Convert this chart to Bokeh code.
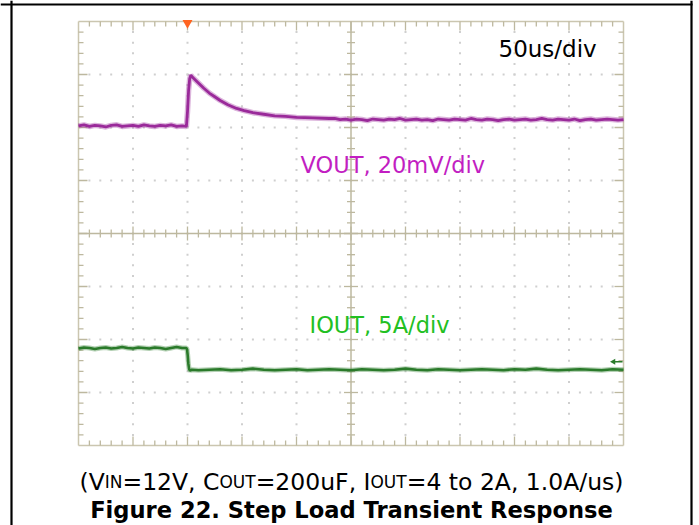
import numpy as np
from bokeh.plotting import figure
from bokeh.models import Range1d
from bokeh.core.properties import value
from bokeh.embed import file_html
from bokeh.resources import INLINE

# ---------------- data ----------------
# time in microseconds (50 us/div, 10 div), values in divisions from screen centre
vout_t = [0, 5, 10, 15, 20, 25, 30, 35, 40, 45, 50, 55, 60, 65, 70, 75, 80, 85, 90, 95,
          99, 100, 101, 102, 103, 104, 106, 110, 115, 120, 125, 130, 137, 145, 152, 160,
          170, 180, 190, 200, 215, 230,
          235, 240, 245, 250, 255, 260, 265, 270, 275, 280, 285, 290, 295, 300, 305, 310,
          315, 320, 325, 330, 335, 340, 345, 350, 355, 360, 365, 370, 375, 380, 385, 390,
          395, 400, 405, 410, 415, 420, 425, 430, 435, 440, 445, 450, 455, 460, 465, 470,
          475, 480, 485, 490, 495, 500]
vout_v = [2.03, 2.05, 2.02, 2.04, 2.03, 2.01, 2.04, 2.05, 2.02, 2.03, 2.04, 2.02, 2.05, 2.03,
          2.02, 2.04, 2.03, 2.05, 2.02, 2.03,
          2.02, 2.30, 2.70, 2.92, 2.99, 2.96, 2.92, 2.84, 2.74, 2.65, 2.58, 2.51, 2.43, 2.36,
          2.32, 2.28, 2.25, 2.22, 2.21, 2.19, 2.18, 2.17,
          2.17, 2.15, 2.16, 2.14, 2.16, 2.15, 2.13, 2.16, 2.15, 2.14, 2.16, 2.15, 2.17, 2.14,
          2.15, 2.16, 2.14, 2.15, 2.13, 2.16, 2.15, 2.14, 2.16, 2.15, 2.14, 2.17, 2.15, 2.14,
          2.16, 2.15, 2.13, 2.15, 2.16, 2.14, 2.15, 2.16, 2.14, 2.15, 2.17, 2.15, 2.14, 2.16,
          2.15, 2.14, 2.16, 2.13, 2.15, 2.16, 2.14, 2.15, 2.16, 2.15, 2.14, 2.15]

iout_t = [0, 5, 10, 15, 20, 25, 30, 35, 40, 45, 50, 55, 60, 65, 70, 75, 80, 85, 90, 95,
          99, 99.6, 100.2, 100.8, 101.5, 102.5, 104, 110,
          120, 130, 140, 150, 160, 170, 180, 190, 200, 210, 220, 230, 240, 250, 260, 270,
          280, 290, 300, 310, 320, 330, 340, 350, 360, 370, 380, 390, 400, 410, 420, 430,
          440, 450, 460, 470, 480, 490, 500]
iout_v = [-2.17, -2.15, -2.16, -2.18, -2.16, -2.15, -2.17, -2.16, -2.14, -2.16, -2.17, -2.15,
          -2.16, -2.17, -2.15, -2.16, -2.18, -2.16, -2.14, -2.16,
          -2.16, -2.19, -2.30, -2.46, -2.56, -2.59, -2.57, -2.58,
          -2.57, -2.56, -2.58, -2.57, -2.55, -2.57, -2.58, -2.57, -2.56, -2.58, -2.57, -2.56,
          -2.57, -2.58, -2.56, -2.57, -2.58, -2.57, -2.55, -2.57, -2.58, -2.56, -2.57, -2.58,
          -2.57, -2.56, -2.57, -2.58, -2.56, -2.57, -2.55, -2.57, -2.58, -2.57, -2.56, -2.57,
          -2.58, -2.56, -2.57]

trigger_t = [100]
iout_marker_v = [-2.42]

label_scale = "50us/div"
label_vout = "VOUT, 20mV/div"
label_iout = "IOUT, 5A/div"
caption_main = ["(V", "=12V, C", "=200uF, I", "=4 to 2A, 1.0A/us)"]
caption_sub = ["IN", "OUT", "OUT"]
caption_title = "Figure 22. Step Load Transient Response"

# ---------------- geometry of the page ----------------
W, H = 699, 525
GX0, GX1 = 78.0, 623.0      # scope graticule, page px
GY0, GY1 = 21.0, 445.0
NDIV_X, NDIV_Y = 10, 8
US_PER_DIV = 50.0
PXX = (GX1 - GX0) / (NDIV_X * US_PER_DIV)   # px per us
PXY = (GY1 - GY0) / NDIV_Y                  # px per div
CY = (GY0 + GY1) / 2
TXT_SHIFT = 9.0   # renderer places the alphabetic baseline this much lower


def X(px):
    return (px - GX0) / PXX


def Y(py):
    return (CY - py) / PXY


def YT(py):
    return Y(py - TXT_SHIFT)


p = figure(width=W, height=H, output_backend="svg", toolbar_location=None,
           x_range=Range1d(X(0), X(W)), y_range=Range1d(Y(H), Y(0)),
           x_axis_type=None, y_axis_type=None, min_border=0)
p.grid.visible = False
p.outline_line_color = None
p.background_fill_color = "white"
p.border_fill_color = "white"
p.margin = (0, 0, 0, 0)

TMAX = NDIV_X * US_PER_DIV
VMAX = NDIV_Y / 2

frame_col = "#cbc6b0"
tick_col = "#bdb89f"
dot_col = "#cfcfcf"

# dotted graticule
minor_t = np.arange(0, TMAX + 0.01, US_PER_DIV / 5)
minor_v = np.arange(-VMAX, VMAX + 0.001, 0.2)
dx, dy = [], []
for k in range(1, NDIV_X):
    if k == NDIV_X // 2:
        continue
    for v in minor_v[1:-1]:
        dx.append(k * US_PER_DIV)
        dy.append(v)
for k in range(-3, 4):
    if k == 0:
        continue
    for t in minor_t[1:-1]:
        dx.append(t)
        dy.append(k)
p.scatter(dx, dy, marker="square", size=2, color=dot_col, line_width=0)

# frame
p.segment(x0=[0, 0, 0, TMAX], y0=[VMAX, -VMAX, -VMAX, -VMAX],
          x1=[TMAX, TMAX, 0, TMAX], y1=[VMAX, -VMAX, VMAX, VMAX],
          line_color=frame_col, line_width=1.5)
# centre cross
p.segment(x0=[0, TMAX / 2], y0=[0, -VMAX], x1=[TMAX, TMAX / 2], y1=[0, VMAX],
          line_color=tick_col, line_width=1.5)

sx0, sy0, sx1, sy1 = [], [], [], []
for t in minor_t[1:-1]:
    major = abs(t / US_PER_DIV - round(t / US_PER_DIV)) < 1e-6
    le = (9 if major else 5) / PXY
    lc = (7 if major else 4) / PXY
    sx0 += [t, t, t]
    sx1 += [t, t, t]
    sy0 += [VMAX, -VMAX, -lc]
    sy1 += [VMAX - le, -VMAX + le, lc]
for v in minor_v[1:-1]:
    major = abs(v - round(v)) < 1e-6
    le = (9 if major else 5) / PXX
    lc = (7 if major else 4) / PXX
    sx0 += [0, TMAX, TMAX / 2 - lc]
    sx1 += [le, TMAX - le, TMAX / 2 + lc]
    sy0 += [v, v, v]
    sy1 += [v, v, v]
p.segment(x0=sx0, y0=sy0, x1=sx1, y1=sy1, line_color=tick_col, line_width=1.3)

# traces: a soft noise envelope under a sharper core line
p.line(vout_t, vout_v, line_color="#9a2a9a", line_width=5.5, line_alpha=0.35)
p.line(vout_t, vout_v, line_color="#9a2a9a", line_width=2.8)
p.line(iout_t, iout_v, line_color="#2a7a2a", line_width=5.0, line_alpha=0.35)
p.line(iout_t, iout_v, line_color="#2a7a2a", line_width=2.6)

# markers
p.scatter(trigger_t, [VMAX - 1.5 / PXY], marker="inverted_triangle", size=10,
          color="#ff6420", line_width=0)
p.scatter([TMAX - 10 / PXX], iout_marker_v, marker="triangle", angle=np.pi / 2, size=6,
          color="#2a7a2a", line_width=0)
p.segment(x0=[TMAX - 10 / PXX], y0=iout_marker_v, x1=[TMAX - 1 / PXX], y1=iout_marker_v,
          line_color="#2a7a2a", line_width=1.5)

FONT = value("DejaVu Sans")
p.text(x=[X(498)], y=[YT(57)], text=[label_scale], text_font=FONT, text_font_size="23px",
       text_color="black", text_align="left", text_baseline="alphabetic")
p.text(x=[X(300)], y=[YT(173)], text=[label_vout], text_font=FONT, text_font_size="22.5px",
       text_color="#c21ec2", text_align="left", text_baseline="alphabetic")
p.text(x=[X(309)], y=[YT(333)], text=[label_iout], text_font=FONT, text_font_size="22.5px",
       text_color="#22c022", text_align="left", text_baseline="alphabetic")

# caption line with small subscripts
ADV = {" ": .318, ",": .318, ".": .318, "=": .838, "(": .390, ")": .390, "/": .337,
       "V": .684, "C": .698, "F": .575, "I": .295, "N": .748, "O": .787, "U": .732,
       "T": .611, "A": .684, "t": .392, "o": .612, "u": .634, "s": .521}


def width(s, size):
    return sum(ADV.get(c, .636) for c in s) * size


F_MAIN, F_SUB = 23.5, 17.0
total = sum(width(s, F_MAIN) for s in caption_main) + sum(width(s, F_SUB) for s in caption_sub)
xc = 351.0
cur = xc - total / 2
mx, mt, bx, bt = [], [], [], []
for i, s in enumerate(caption_main):
    mx.append(X(cur))
    mt.append(s)
    cur += width(s, F_MAIN)
    if i < len(caption_sub):
        bx.append(X(cur))
        bt.append(caption_sub[i])
        cur += width(caption_sub[i], F_SUB)
p.text(x=mx, y=[YT(490)] * len(mx), text=mt, text_font=FONT, text_font_size="23.5px",
       text_color="black", text_align="left", text_baseline="alphabetic")
p.text(x=bx, y=[YT(490)] * len(bx), text=bt, text_font=FONT, text_font_size="17px",
       text_color="black", text_align="left", text_baseline="alphabetic")
p.text(x=[X(xc)], y=[YT(518)], text=[caption_title], text_font=FONT, text_font_size="22.6px",
       text_font_style="bold", text_color="black", text_align="center",
       text_baseline="alphabetic")

# outer table border
p.segment(x0=[X(0), X(11), X(691)], y0=[Y(4), Y(0), Y(0)],
          x1=[X(692), X(11), X(691)], y1=[Y(4), Y(H), Y(H)],
          line_color="black", line_width=2.2)

open("out.html", "w").write(file_html(p, INLINE))
